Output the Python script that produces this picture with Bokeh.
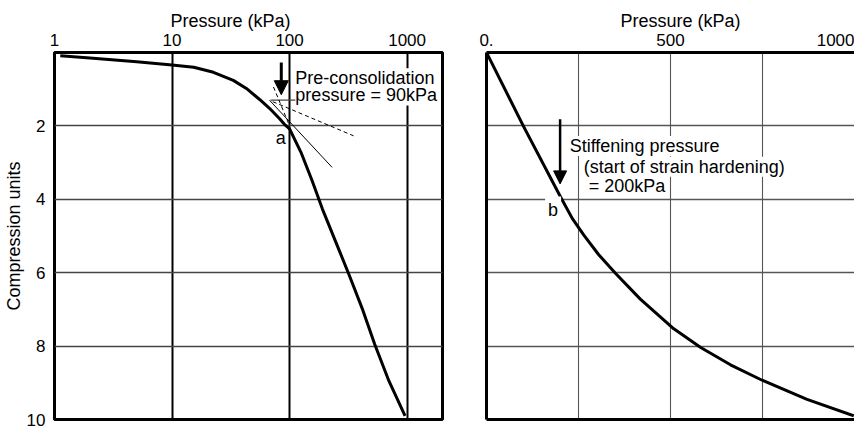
from bokeh.plotting import figure
from bokeh.layouts import row
from bokeh.models import (Range1d, FixedTicker, CustomJSTickFormatter, LinearAxis,
                          Label, Arrow, NormalHead)
from bokeh.embed import file_html
from bokeh.resources import INLINE

FONT = "Liberation Sans"

# ---------------- data: left panel (log pressure) ----------------
log_pressure = [1.12, 2, 5, 10, 15.3, 22.5, 33.2, 42.9, 55.6, 67.5, 81.9, 90, 100,
                125, 155, 190, 250, 320, 420, 530, 700, 960]
log_compression = [0.09, 0.15, 0.25, 0.34, 0.40, 0.54, 0.76, 0.98, 1.28, 1.52, 1.80,
                   1.95, 2.08, 2.72, 3.48, 4.26, 5.20, 6.05, 7.02, 7.95, 8.95, 9.90]
log_x_ticks = [1, 10, 100, 1000]
comp_ticks = [2, 4, 6, 8, 10]

# Casagrande construction lines
horiz_p = [69, 508]
horiz_y = [1.30, 1.30]
tangent_p = [67.5, 230]
tangent_y = [1.30, 3.13]
bisector_p = [72, 350]
bisector_y = [1.34, 2.27]
virgin_p = [73, 100]
virgin_y = [0.94, 2.00]
precons_p = 85
precons_arrow_y = [0.27, 1.15]

# ---------------- data: right panel (linear pressure) ----------------
lin_pressure = [0, 101, 202, 233, 264, 305, 351, 418, 509, 582, 663, 749, 871, 998]
lin_compression = [0, 2.02, 3.95, 4.52, 4.97, 5.51, 6.02, 6.72, 7.53, 8.04, 8.51,
                   8.93, 9.45, 9.90]
lin_x_ticks = [0, 500, 1000]
lin_grid_x = [250, 500, 750]
lin_grid_y = [2, 4, 6, 8]
stiff_p = 200
stiff_arrow_y = [1.82, 3.58]


def style_title(p, offset):
    p.title.text_font = FONT
    p.title.text_font_size = "18px"
    p.title.text_font_style = "normal"
    p.title.text_color = "black"
    p.title.align = "left"
    p.title.offset = offset
    p.title.standoff = 0


# ================= left figure =================
p1 = figure(width=464, height=427, x_axis_type="log", x_range=Range1d(1, 2000),
            y_range=Range1d(10, 0), x_axis_location="above",
            toolbar_location=None, output_backend="svg", title="Pressure (kPa)",
            min_border_left=49, min_border_right=22, min_border_top=52,
            min_border_bottom=8)
style_title(p1, 116)
p1.background_fill_color = "white"
p1.border_fill_color = "white"
p1.outline_line_color = "black"
p1.outline_line_width = 3
p1.outline_line_alpha = 1

xa = p1.xaxis[0]
xa.ticker = FixedTicker(ticks=log_x_ticks)
xa.formatter = CustomJSTickFormatter(code="return Math.round(tick).toString();")
xa.major_tick_line_color = None
xa.minor_tick_line_color = None
xa.axis_line_color = None
xa.major_label_standoff = 1
xa.major_label_text_font = FONT
xa.major_label_text_font_size = "17px"
xa.major_label_text_color = "black"

ya = p1.yaxis[0]
ya.ticker = FixedTicker(ticks=comp_ticks)
ya.major_tick_line_color = None
ya.minor_tick_line_color = None
ya.axis_line_color = None
ya.major_label_standoff = 3
ya.major_label_text_font = FONT
ya.major_label_text_font_size = "17px"
ya.major_label_text_color = "black"
ya.axis_label = "Compression units"
ya.axis_label_text_font = FONT
ya.axis_label_text_font_size = "18px"
ya.axis_label_text_font_style = "normal"
ya.axis_label_text_color = "black"
ya.axis_label_standoff = 0

p1.xgrid.grid_line_color = "black"
p1.xgrid.grid_line_width = 2
p1.ygrid.grid_line_color = "#444444"
p1.ygrid.grid_line_width = 1.3

p1.line(horiz_p, horiz_y, line_color="#444444", line_width=1.3)
p1.line(tangent_p, tangent_y, line_color="black", line_width=1)
p1.line(bisector_p, bisector_y, line_color="black", line_width=1, line_dash="4 3")
p1.line(virgin_p, virgin_y, line_color="black", line_width=1, line_dash="4 3")
p1.line(log_pressure, log_compression, line_color="black", line_width=3,
        line_join="round")

p1.add_layout(Arrow(end=NormalHead(size=14, fill_color="black", line_color="black"),
                    x_start=precons_p, y_start=precons_arrow_y[0],
                    x_end=precons_p, y_end=precons_arrow_y[1],
                    line_color="black", line_width=3))

for txt, yy in [("Pre-consolidation", 0.70), ("pressure = 90kPa", 1.17)]:
    p1.add_layout(Label(x=112, y=yy, text=txt, text_font=FONT, text_font_size="18px",
                        text_color="black", text_baseline="alphabetic",
                        background_fill_color="white"))
p1.add_layout(Label(x=84, y=2.33, text="a", text_font=FONT, text_font_size="18px",
                    text_color="black", text_align="center",
                    text_baseline="alphabetic"))

# ================= right figure =================
p2 = figure(width=390, height=427, x_range=Range1d(0, 1000), y_range=Range1d(10, 0),
            x_axis_location="above", toolbar_location=None, output_backend="svg",
            title="Pressure (kPa)",
            min_border_left=22, min_border_right=0, min_border_top=52,
            min_border_bottom=8)
style_title(p2, 134)
p2.background_fill_color = "white"
p2.border_fill_color = "white"
p2.outline_line_color = None

xb = p2.xaxis[0]
xb.ticker = FixedTicker(ticks=lin_x_ticks)
xb.formatter = CustomJSTickFormatter(
    code="return tick == 0 ? '0.' : Math.round(tick).toString();")
xb.major_tick_line_color = None
xb.minor_tick_line_color = None
xb.axis_line_color = "black"
xb.axis_line_width = 3
xb.major_label_standoff = 1
xb.major_label_text_font = FONT
xb.major_label_text_font_size = "17px"
xb.major_label_text_color = "black"

yb = p2.yaxis[0]
yb.ticker = FixedTicker(ticks=[])
yb.major_tick_line_color = None
yb.minor_tick_line_color = None
yb.major_label_standoff = 0
yb.axis_line_color = "black"
yb.axis_line_width = 3

bottom = LinearAxis(ticker=FixedTicker(ticks=[]),
                    major_tick_line_color=None, minor_tick_line_color=None,
                    major_label_standoff=0, axis_line_color="black",
                    axis_line_width=3)
p2.add_layout(bottom, "below")

p2.xgrid.ticker = FixedTicker(ticks=lin_grid_x)
p2.xgrid.grid_line_color = "#555555"
p2.xgrid.grid_line_width = 1.1
p2.ygrid.ticker = FixedTicker(ticks=lin_grid_y)
p2.ygrid.grid_line_color = "#555555"
p2.ygrid.grid_line_width = 1.3

p2.line(lin_pressure, lin_compression, line_color="black", line_width=3,
        line_join="round")

p2.add_layout(Arrow(end=NormalHead(size=13, fill_color="black", line_color="black"),
                    x_start=stiff_p, y_start=stiff_arrow_y[0],
                    x_end=stiff_p, y_end=stiff_arrow_y[1],
                    line_color="black", line_width=2.5))

for txt, xx, yy in [("Stiffening pressure", 226, 2.55),
                    ("(start of strain hardening)", 264, 3.11),
                    ("= 200kPa", 278, 3.65)]:
    p2.add_layout(Label(x=xx, y=yy, text=txt, text_font=FONT, text_font_size="18px",
                        text_color="black", text_baseline="alphabetic",
                        background_fill_color="white"))
p2.add_layout(Label(x=181, y=4.28, text="b", text_font=FONT, text_font_size="18px",
                    text_color="black", text_align="center",
                    text_baseline="alphabetic", background_fill_color="white",
                    padding=3))

layout = row(p1, p2)
open("out.html", "w").write(file_html(layout, INLINE))
